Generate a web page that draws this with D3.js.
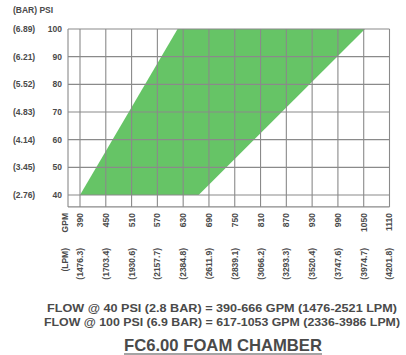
<!DOCTYPE html>
<html><head><meta charset="utf-8">
<script src="https://cdn.jsdelivr.net/npm/d3@7"></script>
<style>body{margin:0;background:#fff}svg{display:block}</style>
</head><body>
<script>
const gpmTicks = [390,450,510,570,630,690,750,810,870,930,990,1050,1110];
const lpmTicks = ["(1476.3)","(1703.4)","(1930.6)","(2157.7)","(2384.8)","(2611.9)","(2839.1)","(3066.2)","(3293.3)","(3520.4)","(3747.6)","(3974.7)","(4201.8)"];
const psiTicks = [40,50,60,70,80,90,100];
const barTicks = ["(2.76)","(3.45)","(4.14)","(4.83)","(5.52)","(6.21)","(6.89)"];
// operating envelope: [GPM, PSI]
const envelopeGpm = [390,617,1053,666];
const envelopePsi = [40,100,100,40];
const flowLines = ["FLOW @ 40 PSI (2.8 BAR) = 390-666 GPM (1476-2521 LPM)","FLOW @ 100 PSI (6.9 BAR) = 617-1053 GPM (2336-3986 LPM)"];
const title = "FC6.00 FOAM CHAMBER";

const W=406,H=355;
const svg=d3.select("body").append("svg").attr("width",W).attr("height",H);
const x=d3.scaleLinear().domain([390,1110]).range([80,389.5]);
const y=d3.scaleLinear().domain([40,100]).range([195,29]);
const xL=x(362.1), xR=x(1110), yT=y(100), yB=y(35.7);
const font="'Liberation Sans', Arial, sans-serif";
const tc="#4a4a4a";

svg.append("path")
 .datum(envelopeGpm.map((g,i)=>[g,envelopePsi[i]]))
 .attr("d",d3.line().x(d=>x(d[0])).y(d=>y(d[1])).curve(d3.curveLinearClosed))
 .attr("fill","#66c466");

const g=svg.append("g").attr("stroke","#8a8a8a").attr("stroke-width",1.1);
g.selectAll(".v").data(gpmTicks).join("line")
 .attr("x1",d=>x(d)).attr("x2",d=>x(d)).attr("y1",yT).attr("y2",yB);
g.selectAll(".h").data(psiTicks).join("line")
 .attr("x1",xL).attr("x2",xR).attr("y1",d=>y(d)).attr("y2",d=>y(d));
g.append("line").attr("x1",xL).attr("x2",xL).attr("y1",yT).attr("y2",yB);
g.append("line").attr("x1",xL).attr("x2",xR).attr("y1",yB).attr("y2",yB);

const lab=svg.append("g").attr("font-family",font).attr("font-weight","bold").attr("fill",tc).attr("font-size","8.5px");
lab.append("text").attr("x",13).attr("y",13).text("(BAR) PSI");
lab.selectAll(".p").data(psiTicks).join("text")
 .attr("x",62).attr("y",d=>y(d)).attr("dy","0.35em").attr("text-anchor","end").text(d=>d);
lab.selectAll(".b").data(barTicks).join("text")
 .attr("x",13).attr("y",(d,i)=>y(psiTicks[i])).attr("dy","0.35em").text(d=>d);

const rot=(sel,yy)=>sel.attr("transform",d=>`translate(${d.x},${yy}) rotate(-90)`)
 .attr("dy","0.35em").attr("text-anchor","end").text(d=>d.t);
rot(lab.selectAll(".gx").data([{x:65,t:"GPM"}].concat(gpmTicks.map(v=>({x:x(v),t:v})))).join("text"),213);
rot(lab.selectAll(".lx").data([{x:65,t:"(LPM)"}].concat(lpmTicks.map((v,i)=>({x:x(gpmTicks[i]),t:v})))).join("text"),248);

const ft=svg.append("g").attr("font-family",font).attr("font-weight","bold").attr("fill",tc);
ft.selectAll(".f").data(flowLines).join("text")
 .attr("x",222).attr("y",(d,i)=>312+i*13.5).attr("text-anchor","middle").attr("font-size","10px")
 .attr("textLength",(d,i)=>i?356:350).attr("lengthAdjust","spacingAndGlyphs").text(d=>d);
ft.append("text").attr("x",223).attr("y",351).attr("text-anchor","middle").attr("font-size","17px")
 .attr("textLength",198).attr("lengthAdjust","spacingAndGlyphs").text(title);
ft.append("line").attr("x1",124).attr("x2",322).attr("y1",354).attr("y2",354).attr("stroke",tc).attr("stroke-width",1.2);
</script>
</body></html>
